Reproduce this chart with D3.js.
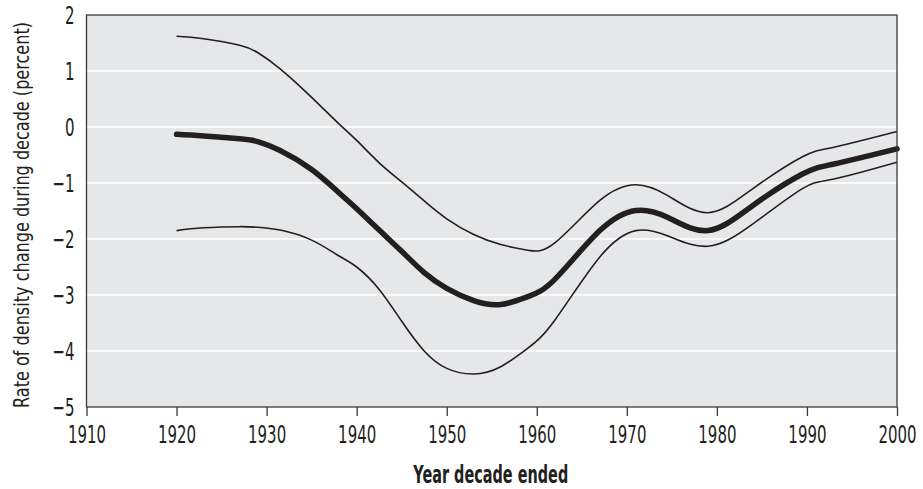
<!DOCTYPE html>
<html>
<head>
<meta charset="utf-8">
<script src="https://cdn.jsdelivr.net/npm/d3@7"></script>
<style>
  body { margin: 0; background: #fff; }
  text { font-family: "DejaVu Sans", sans-serif; fill: #231f20; }
</style>
</head>
<body>
<div id="chart"></div>
<script>
var years = [1920, 1923, 1927, 1929, 1931.5, 1935, 1938, 1940, 1942.5, 1945, 1947.5, 1950, 1953, 1956, 1959, 1962, 1967, 1971, 1974.5, 1979, 1984, 1989.5, 1993, 2000];
var upper = [1.62, 1.575, 1.46, 1.33, 1.04, 0.53, 0.06, -0.24, -0.64, -0.98, -1.32, -1.64, -1.92, -2.1, -2.2, -2.07, -1.31, -1.03, -1.22, -1.53, -1.1, -0.53, -0.36, -0.08];
var estimate = [-0.13, -0.16, -0.21, -0.26, -0.42, -0.76, -1.17, -1.46, -1.84, -2.22, -2.6, -2.88, -3.1, -3.17, -3.03, -2.72, -1.85, -1.49, -1.61, -1.85, -1.4, -0.84, -0.66, -0.39];
var lower = [-1.85, -1.8, -1.78, -1.79, -1.84, -2.02, -2.3, -2.5, -2.9, -3.47, -4.0, -4.31, -4.41, -4.28, -3.95, -3.45, -2.32, -1.85, -1.94, -2.13, -1.73, -1.1, -0.93, -0.63];
var xTicks = [1910, 1920, 1930, 1940, 1950, 1960, 1970, 1980, 1990, 2000];
var yTicks = [2, 1, 0, -1, -2, -3, -4, -5];

var margin = {top: 15, right: 26, bottom: 82, left: 86.5},
    width = 923 - margin.left - margin.right,
    height = 489 - margin.top - margin.bottom;
var squeeze = 0.6; // condensed look for tick labels

var svg = d3.select("#chart").append("svg")
    .attr("width", 923)
    .attr("height", 489)
  .append("g")
    .attr("transform", "translate(" + margin.left + "," + margin.top + ")");

var x = d3.scaleLinear().domain([1910, 2000]).range([0, width]);
var y = d3.scaleLinear().domain([-5, 2]).range([height, 0]);

// plot background
svg.append("rect")
    .attr("width", width)
    .attr("height", height)
    .attr("fill", "#e6e7e8");

// white gridlines
svg.selectAll(".grid")
    .data(yTicks.filter(function(d) { return d > -5 && d < 2; }))
    .enter().append("line")
    .attr("class", "grid")
    .attr("x1", 0).attr("x2", width)
    .attr("y1", function(d) { return y(d); })
    .attr("y2", function(d) { return y(d); })
    .attr("stroke", "#fff")
    .attr("stroke-width", 1.5);

var line = d3.line()
    .x(function(d, i) { return x(years[i]); })
    .y(function(d) { return y(d); })
    .curve(d3.curveNatural);

[upper, lower].forEach(function(s) {
  svg.append("path")
      .datum(s)
      .attr("d", line)
      .attr("fill", "none")
      .attr("stroke", "#231f20")
      .attr("stroke-width", 1.6);
});

svg.append("path")
    .datum(estimate)
    .attr("d", line)
    .attr("fill", "none")
    .attr("stroke", "#231f20")
    .attr("stroke-width", 5.5)
    .attr("stroke-linecap", "round");

// frame
svg.append("rect")
    .attr("width", width)
    .attr("height", height)
    .attr("fill", "none")
    .attr("stroke", "#3a3a3a")
    .attr("stroke-width", 1.3);

var xAxis = svg.append("g")
    .attr("transform", "translate(0," + height + ")")
    .call(d3.axisBottom(x).tickValues(xTicks).tickFormat(d3.format("d")).tickSize(9).tickPadding(9));
xAxis.select(".domain").remove();
xAxis.selectAll("line").attr("stroke", "#3a3a3a").attr("stroke-width", 1.3);
xAxis.selectAll("text")
    .style("font-size", "25px")
    .style("font-family", "'DejaVu Sans', sans-serif")
    .attr("fill", "#231f20")
    .attr("transform", "scale(" + squeeze + ",1)");

var yAxis = svg.append("g")
    .call(d3.axisLeft(y).tickValues(yTicks).tickFormat(d3.format("d")).tickSize(0).tickPadding(12));
yAxis.select(".domain").remove();
yAxis.selectAll("text")
    .style("font-size", "25px")
    .style("font-family", "'DejaVu Sans', sans-serif")
    .attr("fill", "#231f20")
    .attr("x", -12 / squeeze)
    .attr("transform", "scale(" + squeeze + ",1)");

svg.append("text")
    .attr("x", width / 2 - 1)
    .attr("y", height + 76)
    .style("text-anchor", "middle")
    .style("font-size", "24px")
    .style("font-weight", "bold")
    .attr("textLength", 155)
    .attr("lengthAdjust", "spacingAndGlyphs")
    .text("Year decade ended");

svg.append("text")
    .attr("transform", "rotate(-90)")
    .attr("x", -(215 - margin.top))
    .attr("y", -58)
    .style("text-anchor", "middle")
    .style("font-size", "21px")
    .attr("textLength", 386)
    .attr("lengthAdjust", "spacingAndGlyphs")
    .text("Rate of density change during decade (percent)");
</script>
</body>
</html>
